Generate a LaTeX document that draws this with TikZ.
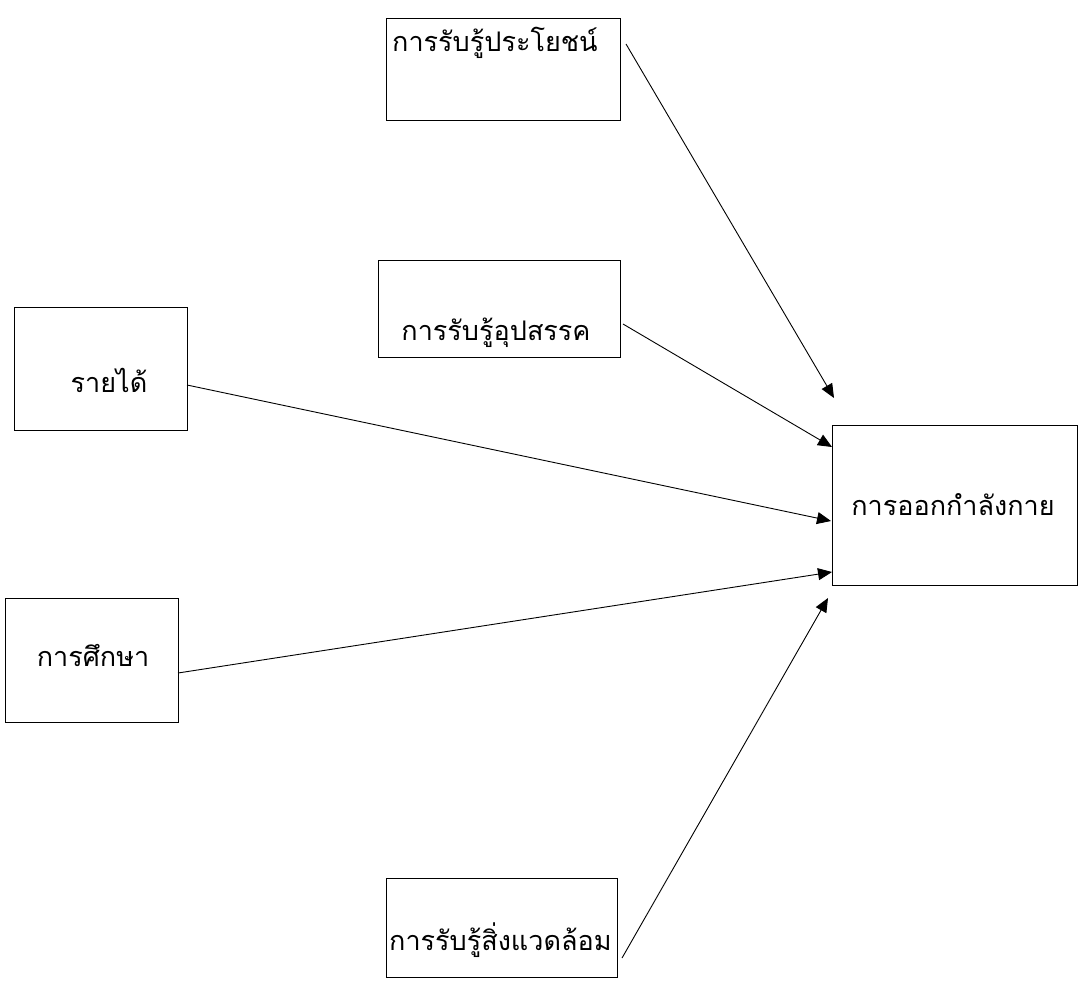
\documentclass[tikz,border=0pt]{standalone}
\usepackage{fontspec}
\newfontfamily\thaifont[Script=Thai]{Loma}
\usetikzlibrary{arrows.meta}
\begin{document}
\begin{tikzpicture}[x=1pt,y=-1pt,
  box/.style={draw,line width=1.3pt,rectangle,inner sep=0pt,anchor=north west},
  lbl/.style={font=\thaifont\fontsize{27}{30}\selectfont,inner sep=0pt},
  conn/.style={line width=0.9pt,-{Triangle[length=14pt,width=12pt]}}]
\useasboundingbox (0,0) rectangle (1083,980);
% boxes
\node[box,minimum width=234pt,minimum height=102pt] (b1) at (386,18) {};
\node[box,minimum width=242pt,minimum height=97pt] (b2) at (378,260) {};
\node[box,minimum width=173pt,minimum height=123pt] (b3) at (14,307) {};
\node[box,minimum width=173pt,minimum height=124pt] (b4) at (5,598) {};
\node[box,minimum width=245pt,minimum height=160pt] (b5) at (832,425) {};
\node[box,minimum width=231pt,minimum height=99pt] (b6) at (386,878) {};
% labels
\node[lbl,anchor=west] (t1) at (392,43) {การรับรู้ประโยชน์};
\node[lbl] (t2) at (496,333) {การรับรู้อุปสรรค};
\node[lbl] (t3) at (109,380) {รายได้};
\node[lbl] (t4) at (93,655) {การศึกษา};
\node[lbl] (t5) at (953,505) {การออกกำลังกาย};
\node[lbl,anchor=west] (t6) at (389,940) {การรับรู้สิ่งแวดล้อม};
% connector end points
\coordinate (e1) at (834,398);
\coordinate (e2) at (832,447);
\coordinate (e3) at (831,521);
\coordinate (e4) at (832,572);
\coordinate (e5) at (828,598);
\coordinate (s1) at (626,44);
\coordinate (s2) at (623,324);
\coordinate (s3) at (187,385);
\coordinate (s4) at (178,673);
\coordinate (s6) at (622,958);
\draw[conn] (s1) -- (e1);
\draw[conn] (s2) -- (e2);
\draw[conn] (s3) -- (e3);
\draw[conn] (s4) -- (e4);
\draw[conn] (s6) -- (e5);
\end{tikzpicture}
\end{document}
